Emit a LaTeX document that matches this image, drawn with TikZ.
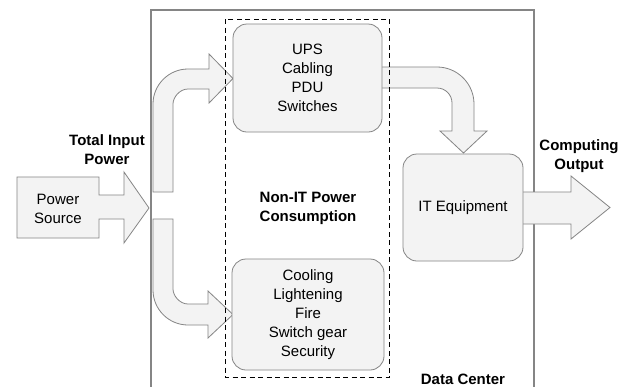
\documentclass[tikz,border=0pt]{standalone}
\usepackage{fontspec}
\setmainfont{Liberation Sans}
\definecolor{edge}{HTML}{858585}
\definecolor{pale}{HTML}{F3F3F3}
\tikzset{
  shell/.style={draw=edge, line width=1.2pt},
  blockarrow/.style={draw=edge, fill=pale, line width=0.8pt, line join=miter},
  unit/.style={draw=edge, fill=pale, line width=0.8pt, rounded corners=14pt},
  txt/.style={font=\fontsize{15}{19}\selectfont, align=center, inner sep=0pt},
  boldtxt/.style={txt, font=\fontsize{15}{19}\selectfont\bfseries},
  groupline/.style={draw=black, line width=0.8pt, dash pattern=on 5pt off 3.5pt}
}
\begin{document}
\begin{tikzpicture}[x=1pt, y=-1pt]
\clip (0,0) rectangle (629,386);
\fill[white] (0,0) rectangle (629,386);

% data center enclosure (runs past the lower edge)
\draw[shell] (151,10) rectangle (534,400);

% power source block arrow
\draw[blockarrow] (17,177) -- (99,177) -- (99,195) -- (124,195) -- (124,172)
  -- (149,208) -- (124,243) -- (124,219) -- (99,219) -- (99,238) -- (17,238) -- cycle;
\node[txt] (src) at (58,208.5) {Power\\Source};

% bent arrow up to the first group
\draw[blockarrow] (153,192) -- (153,104)
  .. controls (153,84.7) and (168.7,69) .. (188,69)
  -- (209,69) -- (209,54) -- (233,78.5) -- (209,103) -- (209,89) -- (188,89)
  .. controls (179.7,89) and (173,97.3) .. (173,104)
  -- (173,192) -- cycle;

% bent arrow down to the second group
\draw[blockarrow] (153,219) -- (153,290)
  .. controls (153,309.3) and (168.7,325) .. (188,325)
  -- (208,325) -- (208,338) -- (233,314.5) -- (208,291) -- (208,304) -- (188,304)
  .. controls (179.7,304) and (173,295.7) .. (173,289)
  -- (173,219) -- cycle;

% bent arrow from the first group to the IT equipment
\draw[blockarrow] (370,67) -- (437,67)
  .. controls (457.4,67) and (474,83.6) .. (474,104)
  -- (474,131) -- (487,131) -- (463.5,153) -- (440,131) -- (452,131) -- (452,103)
  .. controls (452,94.7) and (445.3,88) .. (437,88)
  -- (370,88) -- cycle;

% output block arrow
\draw[blockarrow] (515,192) -- (571,192) -- (571,176) -- (610,207.5)
  -- (571,239) -- (571,224) -- (515,224) -- cycle;

% equipment boxes
\node[unit, minimum width=149pt, minimum height=108pt] (ups) at (307.5,78) {};
\node[txt] at (ups.center) {UPS\\Cabling\\PDU\\Switches};
\node[unit, minimum width=152pt, minimum height=111pt] (cool) at (308,314.5) {};
\node[txt] at (cool.center) {Cooling\\Lightening\\Fire\\Switch gear\\Security};
\node[unit, minimum width=120pt, minimum height=107pt] (it) at (463,207.5) {};
\node[txt] at (it.center) {IT Equipment};

% dashed grouping of non-IT loads
\draw[groupline] (225,19) rectangle (389.5,377);

% labels
\node[boldtxt] (nonit) at (308,208.5) {Non-IT Power\\Consumption};
\node[boldtxt] (tip) at (107,149.5) {Total Input\\Power};
\node[boldtxt] (cout) at (579,156.5) {Computing\\Output};
\node[boldtxt, anchor=base] (dc) at (463,384) {Data Center};
\end{tikzpicture}
\end{document}
